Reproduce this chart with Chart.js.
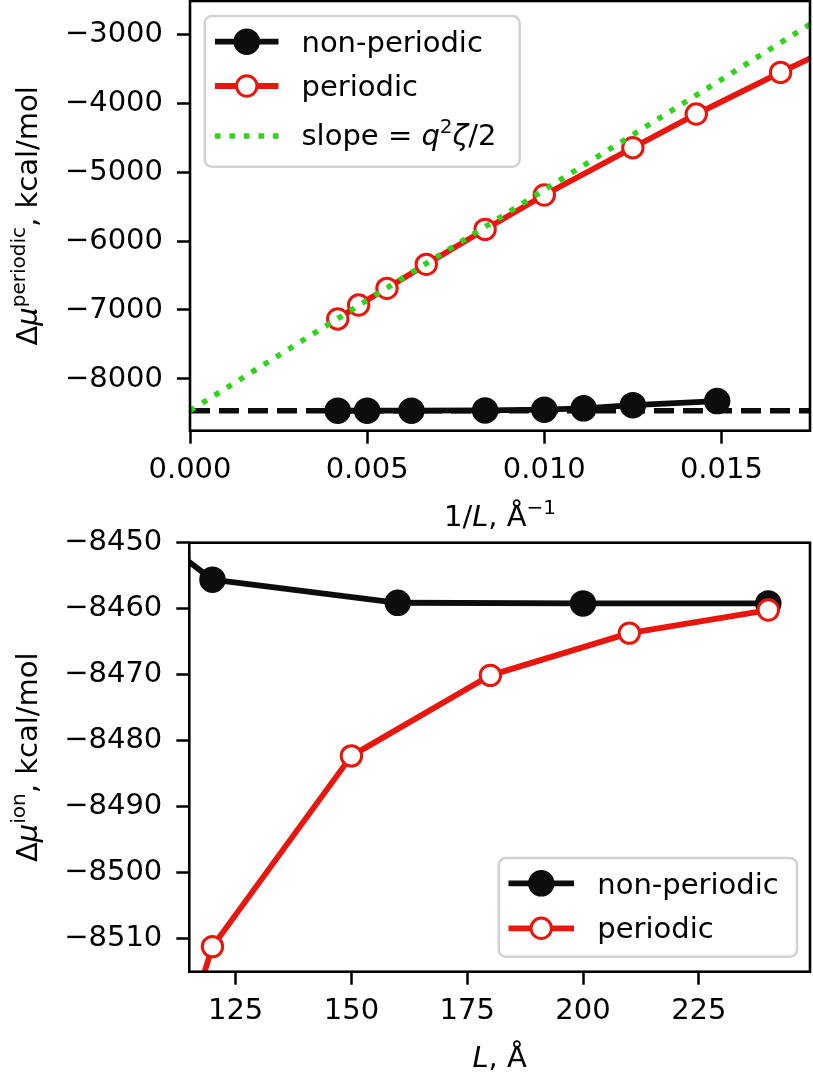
<!DOCTYPE html>
<html><head><meta charset="utf-8">
<script src="https://cdn.jsdelivr.net/npm/chart.js@4.4.1/dist/chart.umd.min.js"></script>
<style>
html,body{margin:0;padding:0;background:#fff;}
#wrap{position:relative;width:813px;height:1072px;overflow:hidden;background:#fff;}
.box{position:absolute;left:0;width:813px;}
#c1box{top:0;height:540px;}
#c2box{top:500px;height:572px;}
canvas{display:block;}
</style></head><body>
<div id="wrap">
<div class="box" id="c1box"><canvas id="c1" width="813" height="540"></canvas></div>
<div class="box" id="c2box"><canvas id="c2" width="813" height="572"></canvas></div>
</div>
<script>
// ---------- DATA ----------
// Top panel: Δμ^periodic vs 1/L
const invLNonPeriodic = [0.00417, 0.00500, 0.00625, 0.00833, 0.01000, 0.01111, 0.01250, 0.01488];
const muNonPeriodic   = [-8459, -8459, -8459, -8456, -8445, -8425, -8380, -8320];
const invLPeriodic    = [0.00417, 0.00476, 0.00556, 0.00667, 0.00833, 0.01000, 0.01250, 0.01429, 0.01667, 0.02000];
const muPeriodic      = [-7130, -6928, -6686, -6338, -5831, -5333, -4647, -4159, -3555, -2740];
const slopeLineX      = [0, 0.0175];
const slopeLineY      = [-8459, -2859];
const refLineY        = -8459;
const topXTicks       = [0, 0.005, 0.010, 0.015];
const topYTicks       = [-8000, -7000, -6000, -5000, -4000, -3000];
const topXRange       = [0, 0.0175];
const topYRange       = [-8750, -2520];

// Bottom panel: Δμ^ion vs L
const LNonPeriodic    = [100, 120, 160, 200, 240];
const muIonNonPeriodic= [-8445, -8455.6, -8459.1, -8459.2, -8459.2];
const LPeriodic       = [100, 120, 150, 180, 210, 240];
const muIonPeriodic   = [-8556, -8511.2, -8482.3, -8470.1, -8463.7, -8460.2];
const botXTicks       = [125, 150, 175, 200, 225];
const botYTicks       = [-8510, -8500, -8490, -8480, -8470, -8460, -8450];
const botXRange       = [115, 249];
const botYRange       = [-8515, -8450];

const labelNonPeriodic = 'non-periodic';
const labelPeriodic    = 'periodic';

// ---------- STYLE ----------
const BLACK = '#0d0d0d', RED = '#e8160c', GREEN = '#2fd41a';
const FAM = '"DejaVu Sans"';
const F  = '29px ' + FAM;
const FI = 'italic 29px ' + FAM;
const SF = '20px ' + FAM;
const LW = 5.8;

const styleNonPer = {borderColor: BLACK, borderWidth: LW, pointRadius: 12, pointBorderWidth: 2.5,
  pointBackgroundColor: BLACK, pointBorderColor: BLACK};
const stylePer = {borderColor: RED, borderWidth: LW, pointRadius: 10.2, pointBorderWidth: 3,
  pointBackgroundColor: '#ffffff', pointBorderColor: RED};
const styleSlope = {borderColor: GREEN, borderWidth: 5.5, borderDash: [5.5, 9], borderCapStyle: 'butt', pointRadius: 0};
const styleRef = {borderColor: BLACK, borderWidth: 5.5, borderDash: [20, 9], borderCapStyle: 'butt', pointRadius: 0};

const pts = (xs, ys) => xs.map((x, i) => ({x: x, y: ys[i]}));
const minus = v => (v < 0 ? '\u2212' : '') + Math.abs(v);

function richWidth(ctx, parts) {
  let w = 0;
  for (const p of parts) { ctx.font = p.f; w += ctx.measureText(p.t).width; }
  return w;
}
function drawRich(ctx, parts, x, y, align) {
  ctx.save();
  ctx.textBaseline = 'alphabetic';
  ctx.textAlign = 'left';
  ctx.fillStyle = '#000';
  let cx = align === 'center' ? x - richWidth(ctx, parts) / 2 : x;
  for (const p of parts) {
    ctx.font = p.f;
    ctx.fillText(p.t, cx, y - (p.dy || 0));
    cx += ctx.measureText(p.t).width;
  }
  ctx.restore();
}
function roundRect(ctx, x1, y1, x2, y2, r) {
  ctx.beginPath();
  ctx.moveTo(x1 + r, y1);
  ctx.lineTo(x2 - r, y1); ctx.arcTo(x2, y1, x2, y1 + r, r);
  ctx.lineTo(x2, y2 - r); ctx.arcTo(x2, y2, x2 - r, y2, r);
  ctx.lineTo(x1 + r, y2); ctx.arcTo(x1, y2, x1, y2 - r, r);
  ctx.lineTo(x1, y1 + r); ctx.arcTo(x1, y1, x1 + r, y1, r);
  ctx.closePath();
}
function drawLegend(ctx, L) {
  ctx.save();
  roundRect(ctx, L.x1, L.y1, L.x2, L.y2, 7);
  ctx.fillStyle = 'rgba(255,255,255,0.8)';
  ctx.fill();
  ctx.lineWidth = 2.5;
  ctx.strokeStyle = '#d2d2d2';
  ctx.stroke();
  for (const e of L.entries) {
    const s = e.style;
    ctx.save();
    ctx.strokeStyle = s.borderColor;
    ctx.lineWidth = s.borderWidth;
    ctx.lineCap = s.borderCapStyle || 'butt';
    ctx.setLineDash(s.borderDash || []);
    ctx.beginPath();
    ctx.moveTo(L.hx1, e.y); ctx.lineTo(L.hx2, e.y);
    ctx.stroke();
    ctx.setLineDash([]);
    if (s.pointRadius > 0) {
      ctx.beginPath();
      ctx.arc((L.hx1 + L.hx2) / 2, e.y, s.pointRadius, 0, Math.PI * 2);
      ctx.fillStyle = s.pointBackgroundColor;
      ctx.fill();
      ctx.lineWidth = s.pointBorderWidth;
      ctx.strokeStyle = s.pointBorderColor;
      ctx.stroke();
    }
    ctx.restore();
    drawRich(ctx, e.parts, L.tx, e.base, 'left');
  }
  ctx.restore();
}

function makeDecor(cfg) {
  return {
    id: 'decor',
    afterDatasetsDraw(chart) {
      const ctx = chart.ctx, a = chart.chartArea;
      ctx.save();
      ctx.lineWidth = 2.6;
      ctx.strokeStyle = '#000';
      ctx.setLineDash([]);
      ctx.strokeRect(a.left, a.top, a.right - a.left, a.bottom - a.top);
      ctx.restore();
      drawLegend(ctx, cfg.legend);
      drawRich(ctx, cfg.xTitle, (a.left + a.right) / 2, cfg.xTitleBase, 'center');
      ctx.save();
      ctx.translate(cfg.yTitleBase, (a.top + a.bottom) / 2);
      ctx.rotate(-Math.PI / 2);
      drawRich(ctx, cfg.yTitle, 0, 0, 'center');
      ctx.restore();
    }
  };
}

function zeroPad(s) { s.paddingLeft = 0; s.paddingRight = 0; s.paddingTop = 0; s.paddingBottom = 0; }

function makeOptions(o) {
  const tickFont = {family: 'DejaVu Sans', size: 29};
  return {
    responsive: false, animation: false, events: [],
    devicePixelRatio: 1,
    layout: {autoPadding: false, padding: {top: o.padTop, right: o.padRight, left: 0, bottom: 0}},
    plugins: {legend: {display: false}, tooltip: {enabled: false}, title: {display: false}},
    scales: {
      x: {
        type: 'linear', min: o.xRange[0], max: o.xRange[1],
        afterBuildTicks: s => { s.ticks = o.xTicks.map(v => ({value: v})); },
        afterFit: s => { s.height = o.xAxisH; zeroPad(s); },
        grid: {display: true, drawOnChartArea: false, drawTicks: true, tickLength: 13, tickWidth: 2.5, tickColor: '#000'},
        border: {display: false},
        ticks: {color: '#000', font: tickFont, padding: 9, maxRotation: 0, minRotation: 0, autoSkip: false,
          callback: v => o.xFmt(v)}
      },
      y: {
        type: 'linear', min: o.yRange[0], max: o.yRange[1],
        afterBuildTicks: s => { s.ticks = o.yTicks.map(v => ({value: v})); },
        afterFit: s => { s.width = o.yAxisW; zeroPad(s); },
        grid: {display: true, drawOnChartArea: false, drawTicks: true, tickLength: 13, tickWidth: 2.5, tickColor: '#000'},
        border: {display: false},
        ticks: {color: '#000', font: tickFont, padding: 14, autoSkip: false, callback: v => minus(v)}
      }
    }
  };
}

function build(id, datasets, opts, decor) {
  return new Chart(document.getElementById(id), {type: 'line', data: {datasets: datasets},
    options: makeOptions(opts), plugins: [makeDecor(decor)]});
}

// ---------- TOP CHART ----------
build('c1', [
    Object.assign({label: 'slope', data: pts(slopeLineX, slopeLineY), order: 0, fill: false}, styleSlope),
    Object.assign({label: labelPeriodic, data: pts(invLPeriodic, muPeriodic), order: 1, fill: false, borderJoinStyle: 'round'}, stylePer),
    Object.assign({label: labelNonPeriodic, data: pts(invLNonPeriodic, muNonPeriodic), order: 2, fill: false, borderJoinStyle: 'round'}, styleNonPer),
    Object.assign({label: 'ref', data: pts(topXRange, [refLineY, refLineY]), order: 3, fill: false}, styleRef)
  ],
  {xRange: topXRange, yRange: topYRange, xTicks: topXTicks, yTicks: topYTicks,
    xFmt: v => v.toFixed(3), yAxisW: 190, xAxisH: 540 - 430.7, padTop: 1, padRight: 3},
  {
    legend: {x1: 204.7, y1: 16, x2: 519.6, y2: 166.7, hx1: 215, hx2: 278.5, tx: 301.5,
      entries: [
        {style: styleNonPer, y: 41.7, base: 51.7, parts: [{t: labelNonPeriodic, f: F}]},
        {style: stylePer, y: 86, base: 95.5, parts: [{t: labelPeriodic, f: F}]},
        {style: styleSlope, y: 136, base: 144.5, parts: [{t: 'slope = ', f: F}, {t: 'q', f: FI}, {t: '2', f: SF, dy: 12}, {t: '\u03B6', f: FI}, {t: '/2', f: F}]}
      ]},
    xTitle: [{t: '1/', f: F}, {t: 'L', f: FI}, {t: ', \u00C5', f: F}, {t: '\u22121', f: SF, dy: 12}],
    xTitleBase: 526,
    yTitle: [{t: '\u0394', f: F}, {t: '\u03BC', f: FI}, {t: 'periodic', f: SF, dy: 12}, {t: ', kcal/mol', f: F}],
    yTitleBase: 36.5
  });

// ---------- BOTTOM CHART ----------
build('c2', [
    Object.assign({label: labelPeriodic, data: pts(LPeriodic, muIonPeriodic), order: 1, fill: false, borderJoinStyle: 'round'}, stylePer),
    Object.assign({label: labelNonPeriodic, data: pts(LNonPeriodic, muIonNonPeriodic), order: 2, fill: false, borderJoinStyle: 'round'}, styleNonPer)
  ],
  {xRange: botXRange, yRange: botYRange, xTicks: botXTicks, yTicks: botYTicks,
    xFmt: v => String(v), yAxisW: 189.3, xAxisH: 572 - 471.7, padTop: 42.7, padRight: 3},
  {
    legend: {x1: 498.8, y1: 358, x2: 797, y2: 456.7, hx1: 508.5, hx2: 574, tx: 597.3,
      entries: [
        {style: styleNonPer, y: 383.3, base: 394, parts: [{t: labelNonPeriodic, f: F}]},
        {style: stylePer, y: 428.3, base: 438.3, parts: [{t: labelPeriodic, f: F}]}
      ]},
    xTitle: [{t: 'L', f: FI}, {t: ', \u00C5', f: F}],
    xTitleBase: 567,
    yTitle: [{t: '\u0394', f: F}, {t: '\u03BC', f: FI}, {t: 'ion', f: SF, dy: 12}, {t: ', kcal/mol', f: F}],
    yTitleBase: 36.5
  });
</script>
</body></html>
